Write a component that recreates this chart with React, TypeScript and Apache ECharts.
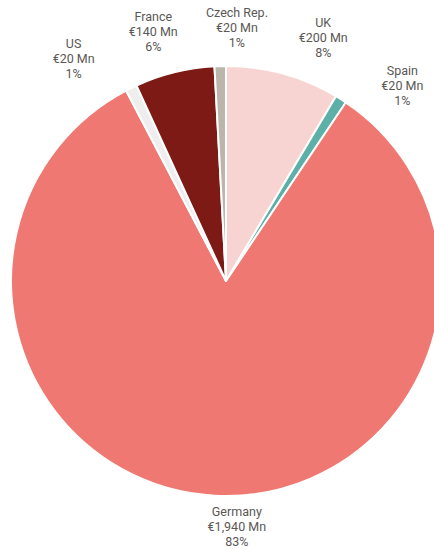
import React, { useEffect, useRef } from "react";
import * as echarts from "echarts";

const categories = ["UK", "Spain", "Germany", "US", "France", "Czech Rep."];
const valuesMn = [200, 20, 1940, 20, 140, 20];
const percentLabels = [8, 1, 83, 1, 6, 1];

const sliceColors = ["#F7D4D1", "#5CB0A8", "#EF7872", "#EEEEEE", "#7E1A15", "#BCB5AB"];
// layout tweaks for label placement (degrees offset from slice mid-angle, distance from centre)
const labelAngleNudge = [6.4, 9.8, -5.6, -8.2, -2.4, 4.0];
const labelDistance = [262, 263, 246, 270, 260, 254];

const CX = 226;
const CY = 281;
const R = 215;

export default function App() {
  const ref = useRef<HTMLDivElement>(null);
  useEffect(() => {
    if (!ref.current) return;
    const chart = echarts.init(ref.current, null, { renderer: "svg" });
    const total = valuesMn.reduce((a, b) => a + b, 0);
    const midAngles: number[] = [];
    let cum = 0;
    valuesMn.forEach((v) => {
      midAngles.push(((cum + v / 2) / total) * 360);
      cum += v;
    });
    chart.setOption({
      animation: false,
      backgroundColor: "#ffffff",
      series: [
        {
          type: "pie",
          center: [CX, CY],
          radius: R,
          startAngle: 90,
          clockwise: true,
          avoidLabelOverlap: false,
          itemStyle: { borderColor: "#ffffff", borderWidth: 2 },
          label: {
            show: true,
            position: "outside",
            color: "#5A5856",
            fontFamily: "Roboto",
            fontSize: 12.5,
            lineHeight: 15,
            align: "center",
            formatter: (p: any) =>
              `${p.name}\n€${Number(p.value).toLocaleString("en-US")} Mn\n${percentLabels[p.dataIndex]}%`,
          },
          labelLine: { show: false },
          labelLayout: (params: any) => {
            const i = params.dataIndex;
            const a = ((midAngles[i] + labelAngleNudge[i]) * Math.PI) / 180;
            const d = labelDistance[i];
            return {
              x: CX + d * Math.sin(a),
              y: CY - d * Math.cos(a),
              align: "center",
              verticalAlign: "middle",
            };
          },
          data: categories.map((name, i) => ({
            name,
            value: valuesMn[i],
            itemStyle: { color: sliceColors[i] },
          })),
        },
      ],
    });
    return () => chart.dispose();
  }, []);
  return (
    <div
      ref={ref}
      style={{ position: "fixed", left: 0, top: 0, width: 434, height: 549 }}
    />
  );
}
